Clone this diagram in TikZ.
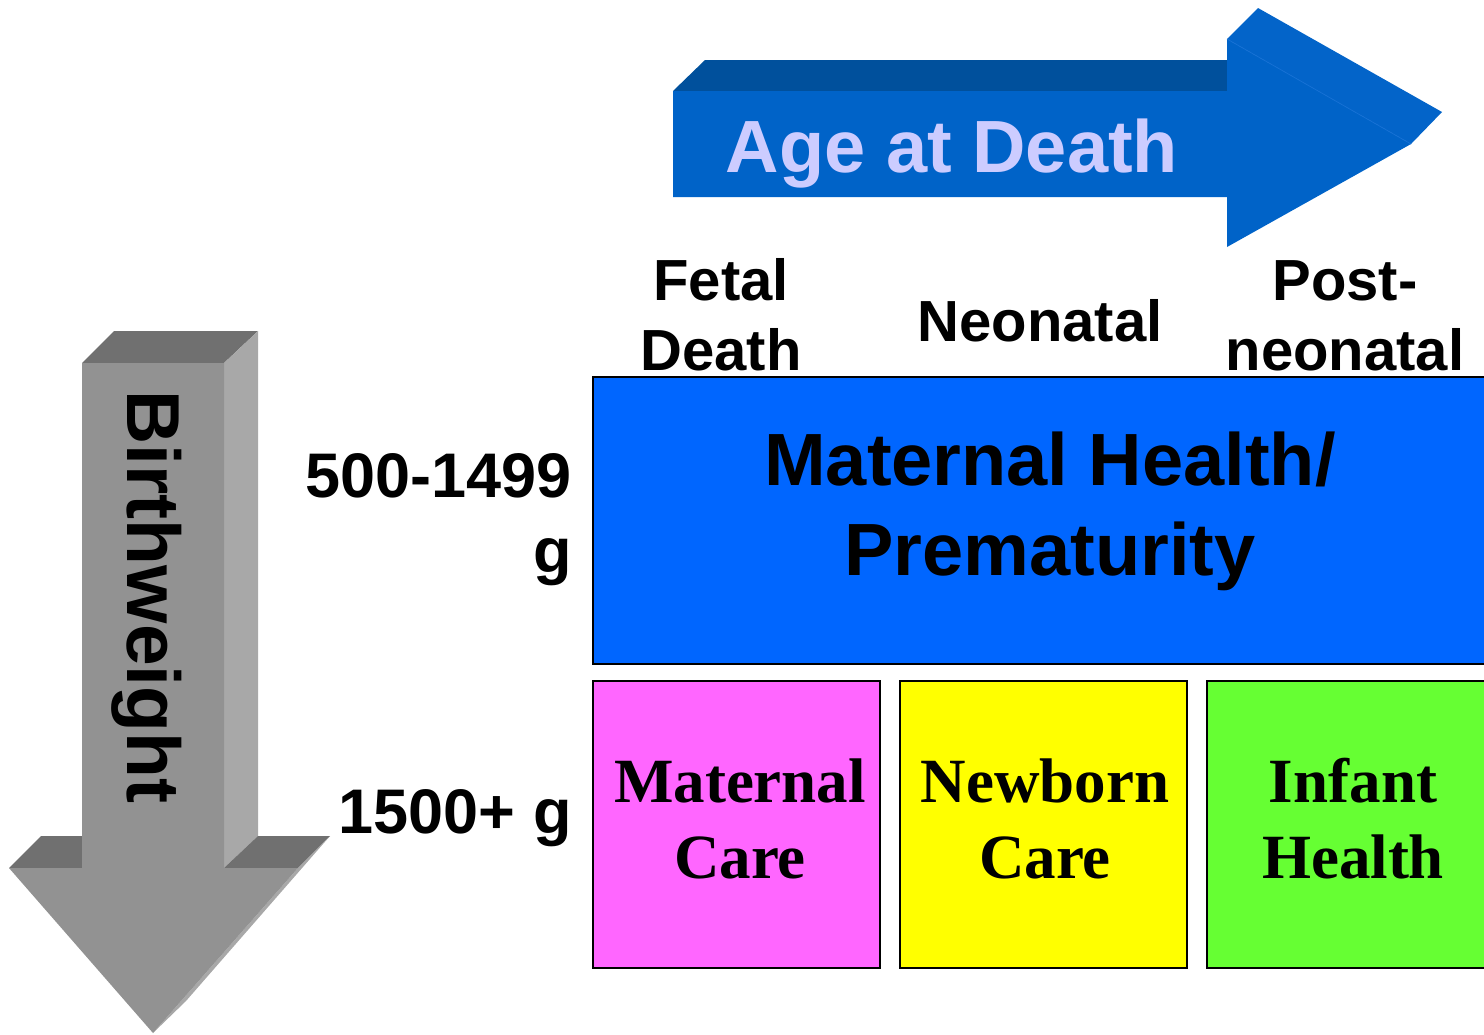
\documentclass[tikz,border=0pt]{standalone}
\usepackage{fontspec}
\setmainfont{Liberation Serif}
\setsansfont{Liberation Sans}
\begin{document}
\begin{tikzpicture}[x=1pt,y=-1pt,
  lbl/.style={inner sep=0pt,anchor=base,font=\sffamily\bfseries\fontsize{58}{70}\selectfont},
  rowlbl/.style={inner sep=0pt,anchor=base east,font=\sffamily\bfseries\fontsize{63}{75}\selectfont},
  boxtxt/.style={inner sep=0pt,anchor=base,font=\sffamily\bfseries\fontsize{74}{90}\selectfont},
  caretxt/.style={inner sep=0pt,anchor=base,font=\rmfamily\bfseries\fontsize{63}{76}\selectfont},
  cell/.style={draw=black,line width=2.5pt}]
\definecolor{bfront}{RGB}{0,99,200}
\definecolor{btop}{RGB}{0,80,156}
\definecolor{bside}{RGB}{3,100,201}
\definecolor{bedge}{RGB}{20,112,212}
\definecolor{gfront}{RGB}{146,146,146}
\definecolor{gtop}{RGB}{112,112,112}
\definecolor{gside}{RGB}{168,168,168}
\definecolor{lav}{RGB}{204,204,255}
\definecolor{mblue}{RGB}{0,102,255}
\definecolor{mpink}{RGB}{255,102,255}
\definecolor{myellow}{RGB}{255,255,0}
\definecolor{mgreen}{RGB}{102,255,51}
\useasboundingbox (0,0) rectangle (1484,1034);
\clip (0,0) rectangle (1484,1034);
% ---- blue arrow (Age at Death)
\fill[btop] (673,91) -- (705,60) -- (1227,60) -- (1227,91) -- cycle;
\fill[bside] (1227,39) -- (1258,8) -- (1442,112) -- (1411,144) -- cycle;
\fill[bfront] (673,91) -- (1227,91) -- (1227,39) -- (1411,144) -- (1227,247) -- (1227,197) -- (673,197) -- cycle;
\draw[bedge,line width=0.8pt] (1227,39) -- (1411,144);
\node[inner sep=0pt,anchor=base,text=lav,font=\sffamily\bfseries\fontsize{74}{80}\selectfont] (age) at (952,172) {Age at Death};
% ---- gray arrow (Birthweight)
\fill[gtop] (82,363) -- (114,331) -- (258,331) -- (224,363) -- cycle;
\fill[gside] (224,363) -- (258,331) -- (258,836) -- (224,868) -- cycle;
\fill[gtop] (9,868) -- (41,836) -- (82,836) -- (82,868) -- cycle;
\fill[gtop] (224,868) -- (258,836) -- (330,836) -- (298,868) -- cycle;
\fill[gside] (298,868) -- (330,836) -- (186,1001) -- (153,1033) -- cycle;
\fill[gfront] (82,363) -- (224,363) -- (224,868) -- (298,868) -- (153,1033) -- (9,868) -- (82,868) -- cycle;
\node[inner sep=0pt,anchor=base,rotate=-90,font=\sffamily\bfseries\fontsize{75}{80}\selectfont] (bw) at (127,597) {Birthweight};
% ---- column labels
\node[lbl] (fetal1) at (721,300) {Fetal};
\node[lbl] (fetal2) at (721,370) {Death};
\node[lbl] (neo) at (1040,341) {Neonatal};
\node[lbl] (post1) at (1345,300) {Post-};
\node[lbl] (post2) at (1345,370) {neonatal};
% ---- row labels
\node[rowlbl] (r1a) at (572,497) {500-1499};
\node[rowlbl] (r1b) at (572,572) {g};
\node[rowlbl] (r2) at (572,833) {1500+ g};
% ---- cells
\path[cell,fill=mblue] (593,377) rectangle (1510,664);
\node[boxtxt] (mh1) at (1050,485) {Maternal Health/};
\node[boxtxt] (mh2) at (1050,575) {Prematurity};
\path[cell,fill=mpink] (593,681) rectangle (880,968);
\path[cell,fill=myellow] (900,681) rectangle (1187,968);
\path[cell,fill=mgreen] (1207,681) rectangle (1510,968);
\node[caretxt] (mc1) at (740,802) {Maternal};
\node[caretxt] (mc2) at (740,878) {Care};
\node[caretxt] (nc1) at (1045,802) {Newborn};
\node[caretxt] (nc2) at (1045,878) {Care};
\node[caretxt] (ih1) at (1353,802) {Infant};
\node[caretxt] (ih2) at (1353,878) {Health};
\end{tikzpicture}
\end{document}
